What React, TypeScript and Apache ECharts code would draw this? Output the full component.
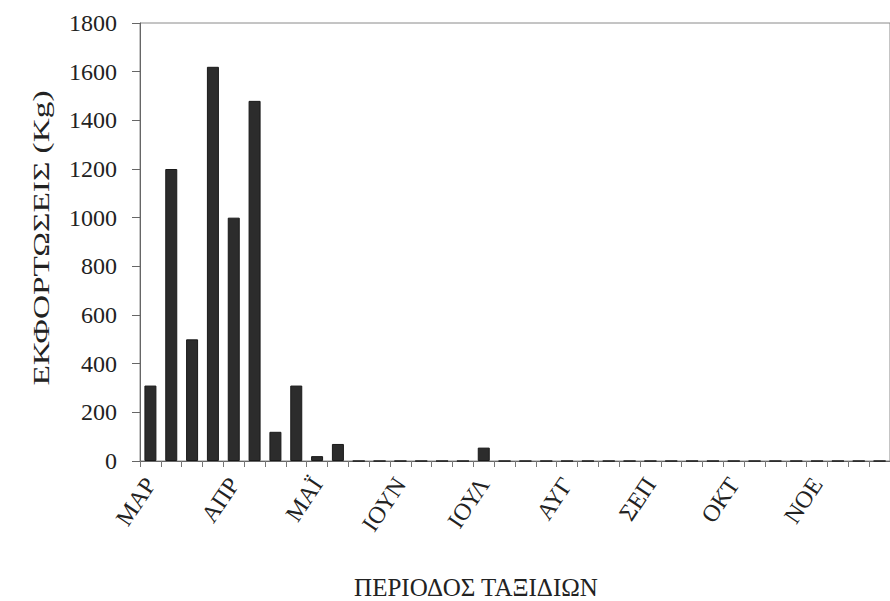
import React, { useEffect, useRef } from "react";
import * as echarts from "echarts";

const months = ["ΜΑΡ", "ΑΠΡ", "ΜΑΪ", "ΙΟΥΝ", "ΙΟΥΛ", "ΑΥΓ", "ΣΕΠ", "ΟΚΤ", "ΝΟΕ"];
const weeksPerMonth = 4;
const categories: string[] = [];
months.forEach((m) => {
  for (let w = 1; w <= weeksPerMonth; w++) categories.push(m + "-" + w);
});

// Landings (Kg) per trip period, one value per week
const landings = [
  310, 1200, 500, 1620, 1000, 1480, 120, 310, 20, 70, 0, 0,
  0, 0, 0, 0, 55, 0, 0, 0, 0, 0, 0, 0,
  0, 0, 0, 0, 0, 0, 0, 0, 0, 0, 0, 0,
];

const yTicks = { min: 0, max: 1800, interval: 200 };
const yName = "ΕΚΦΟΡΤΩΣΕΙΣ (Kg)";
const xName = "ΠΕΡΙΟΔΟΣ ΤΑΞΙΔΙΩΝ";

const FONT = "'Liberation Serif', 'Times New Roman', serif";

export default function App() {
  const ref = useRef<HTMLDivElement>(null);
  useEffect(() => {
    if (!ref.current) return;
    const chart = echarts.init(ref.current, undefined, { renderer: "svg" });
    chart.setOption({
      animation: false,
      backgroundColor: "#ffffff",
      textStyle: { fontFamily: FONT },
      grid: {
        left: 140,
        top: 23,
        width: 756,
        height: 438,
        show: true,
        borderColor: "#8a8a8a",
        borderWidth: 1,
        backgroundColor: "transparent",
      },
      xAxis: {
        type: "category",
        data: categories,
        boundaryGap: true,
        axisLine: { show: true, lineStyle: { color: "#666", width: 1 } },
        axisTick: {
          show: true,
          interval: 0,
          alignWithLabel: false,
          length: 6,
          lineStyle: { color: "#777" },
        },
        axisLabel: {
          interval: weeksPerMonth - 1,
          rotate: 56,
          margin: 19,
          fontFamily: FONT,
          fontSize: 24,
          color: "#222",
          formatter: (v: string) => v.split("-")[0],
        },
        splitLine: { show: false },
      },
      yAxis: {
        type: "value",
        min: yTicks.min,
        max: yTicks.max,
        interval: yTicks.interval,
        axisLine: { show: true, lineStyle: { color: "#666", width: 1 } },
        axisTick: { show: true, length: 8, lineStyle: { color: "#666" } },
        axisLabel: {
          margin: 23,
          fontFamily: FONT,
          fontSize: 24,
          color: "#222",
          formatter: (v: number) => String(v),
        },
        splitLine: { show: false },
      },
      graphic: [
        {
          type: "text",
          x: 476,
          y: 587,
          style: {
            text: xName,
            font: "25px " + FONT,
            fill: "#222",
            align: "center",
            verticalAlign: "middle",
          },
        },
        {
          type: "text",
          x: 41,
          y: 238,
          rotation: Math.PI / 2,
          scaleX: 1.45,
          style: {
            text: yName,
            font: "23px " + FONT,
            fill: "#222",
            align: "center",
            verticalAlign: "middle",
          },
        },
      ],
      series: [
        {
          type: "bar",
          data: landings,
          barWidth: 12,
          itemStyle: { color: "#2c2c2c", borderColor: "#1a1a1a", borderWidth: 1 },
        },
      ],
    });
    return () => chart.dispose();
  }, []);
  return (
    <div
      ref={ref}
      style={{ position: "fixed", left: 0, top: 0, width: 890, height: 601 }}
    />
  );
}
